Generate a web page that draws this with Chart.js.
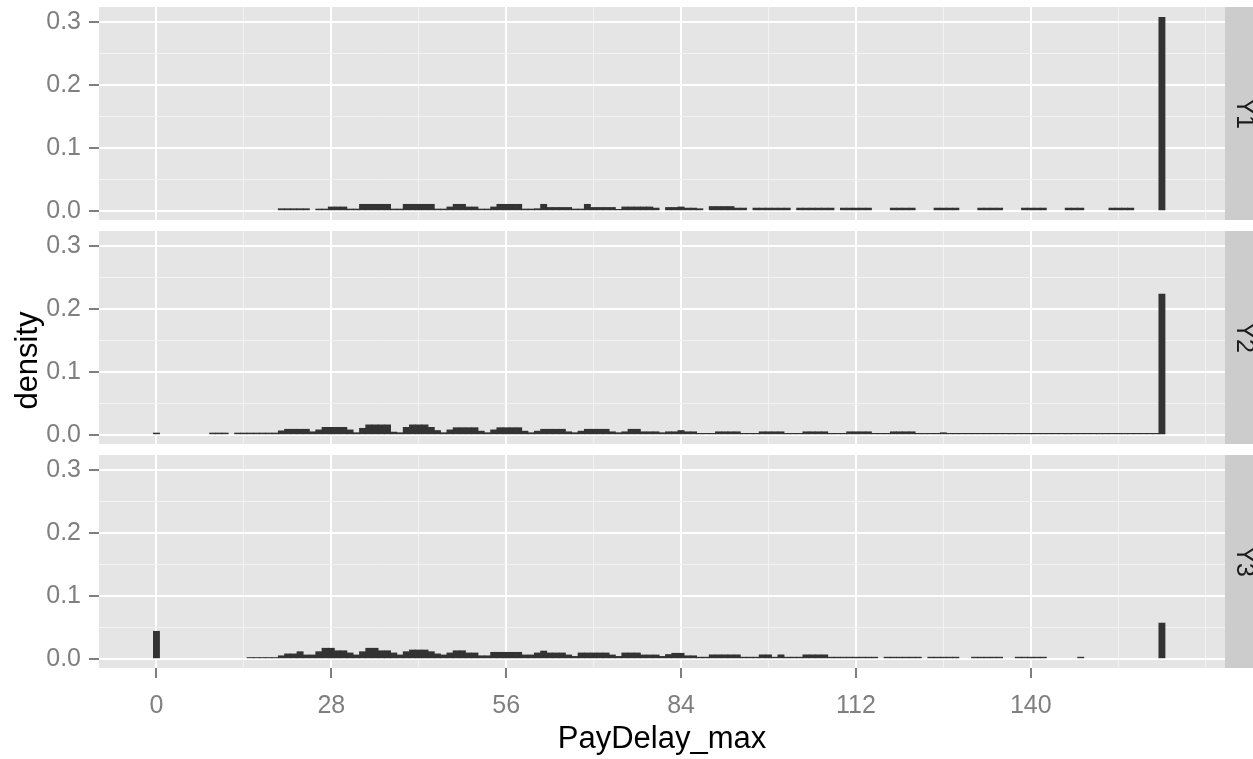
<!DOCTYPE html>
<html>
<head>
<meta charset="utf-8">
<script src="https://cdn.jsdelivr.net/npm/chart.js@4.4.1/dist/chart.umd.min.js"></script>
<style>
  html, body { margin: 0; padding: 0; background: #ffffff; }
  #wrap { position: relative; width: 1253px; height: 759px; overflow: hidden; }
  canvas { position: absolute; left: 0; }
</style>
</head>
<body>
<div id="wrap">
  <canvas id="panel1" width="1253" height="231" style="top:0px"></canvas>
  <canvas id="panel2" width="1253" height="231" style="top:224px"></canvas>
  <canvas id="panel3" width="1253" height="311" style="top:448px"></canvas>
</div>
<script>
// density per day (binwidth 1), first value is day 0, one row = one week
const firstDay = 0

const y1Density = [
  0, 0, 0, 0, 0, 0, 0,
  0, 0, 0, 0, 0, 0, 0,
  0, 0, 0, 0, 0, 0, .0035,
  .0035, .0035, .0035, .0035, 0, .003, .003,
  .0063, .0063, .0063, .003, .003, .0105, .0105,
  .0105, .0105, .0105, .003, .003, .0105, .0105,
  .0105, .0105, .0105, .003, .003, .0063, .0105,
  .0105, .0063, .0063, .003, .003, .0063, .0105,
  .0105, .0105, .0105, .003, .003, .0035, .0105,
  .0055, .0055, .0055, .0055, .003, .003, .0105,
  .0055, .0055, .0055, .0055, .0025, .0063, .0063,
  .0063, .0063, .0063, .0045, 0, .0055, .0055,
  .0063, .0045, .0045, .0035, 0, .007, .007,
  .007, .007, .0045, .0045, 0, .0045, .0045,
  .0045, .0045, .0045, .0045, 0, .0045, .0045,
  .0045, .0045, .0045, .0045, 0, .0045, .0045,
  .0045, .0045, .0045, 0, 0, 0, .0045,
  .0045, .0045, .0045, 0, 0, 0, .0045,
  .0045, .0045, .0045, 0, 0, 0, .0045,
  .0045, .0045, .0045, 0, 0, 0, .0045,
  .0045, .0045, .0045, 0, 0, 0, .0045,
  .0045, .0045, 0, 0, 0, 0, .0045,
  .0045, .0045, .0045, 0, 0, 0, 0,
  .308
]

const y2Density = [
  .003, 0, 0, 0, 0, 0, 0,
  0, 0, .003, .003, .003, 0, .003,
  .003, .003, .003, .003, .003, .003, .0065,
  .009, .009, .009, .009, .005, .008, .012,
  .012, .012, .012, .008, .0035, .0105, .016,
  .016, .016, .016, .0045, .0035, .012, .016,
  .016, .016, .012, .007, .0035, .008, .0115,
  .0115, .0115, .0115, .006, .0035, .008, .0115,
  .0115, .0115, .0115, .006, .0035, .006, .009,
  .009, .009, .009, .005, .0035, .006, .009,
  .009, .009, .009, .005, .0035, .005, .009,
  .009, .005, .005, .005, .0035, .005, .005,
  .007, .005, .005, .0025, .0025, .0025, .005,
  .005, .005, .005, .0025, .0025, .0025, .005,
  .005, .005, .005, .0025, .0025, .0025, .005,
  .005, .005, .005, .0025, .0025, .0025, .005,
  .005, .005, .005, .0025, .0025, .0025, .005,
  .005, .005, .005, .0025, .0025, .0025, .0025,
  .0035, .0025, .0025, .0025, .0025, .0025, .0025,
  .0025, .0025, .0025, .0025, .0025, .0025, .0025,
  .0025, .0025, .0025, .0025, .0025, .0025, .0025,
  .0025, .0025, .0025, .0025, .0025, .0025, .0025,
  .0025, .0025, .0025, .0025, .0025, .0025, .0025,
  .224
]

const y3Density = [
  .044, 0, 0, 0, 0, 0, 0,
  0, 0, 0, 0, 0, 0, 0,
  0, .0022, .0022, .0022, .0022, .0022, .005,
  .008, .008, .0115, .0063, .0063, .0115, .017,
  .017, .013, .013, .0095, .0063, .0115, .017,
  .017, .013, .013, .0095, .0063, .0115, .0142,
  .0142, .0142, .0115, .008, .0063, .0095, .013,
  .013, .0095, .0095, .005, .005, .0105, .0105,
  .0105, .0105, .0105, .0063, .0063, .0095, .0125,
  .0095, .0095, .0095, .0063, .004, .0095, .0095,
  .0095, .0095, .0095, .0063, .004, .0095, .0095,
  .0095, .0063, .0063, .0063, .004, .007, .009,
  .009, .005, .005, .0028, .0028, .0065, .0065,
  .0065, .0065, .0065, .0028, .0028, .0028, .0065,
  .0065, .0028, .0065, .0028, .0028, .0028, .0065,
  .0065, .0065, .0065, .0028, .0028, .0028, .0028,
  .0028, .0028, .0028, .0028, 0, .0028, .0028,
  .0028, .0028, .0028, .0028, 0, .0028, .0028,
  .0028, .0028, .0028, 0, 0, .0028, .0028,
  .0028, .0028, .0028, 0, 0, .0028, .0028,
  .0028, .0028, .0028, 0, 0, 0, 0,
  0, .0028, 0, 0, 0, 0, 0,
  0, 0, 0, 0, 0, 0, 0,
  .057
]

const panelNames = ['Y1', 'Y2', 'Y3']
const xMajor = [0, 28, 56, 84, 112, 140]
const xMinor = [14, 42, 70, 98, 126, 154, 168]
const yMajor = [0, 0.1, 0.2, 0.3]
const yMinor = [0.05, 0.15, 0.25]
const yLabels = ['0.0', '0.1', '0.2', '0.3']

const xMin = -9.2, xMax = 171.1
const yMin = -0.0145, yMax = 0.3245
const FONT = "'Liberation Sans', Arial, sans-serif"

const xTicks = [...xMajor, ...xMinor].sort((a, b) => a - b)
const yTicks = [...yMajor, ...yMinor].sort((a, b) => a - b)

const toPoints = (values) => {
    const pts = []
    values.forEach((v, i) => {
        if (v > 0) pts.push({ x: firstDay + i, y: v })
    })
    return pts
}

// grey panel background
const panelBg = {
    id: 'panelBg',
    beforeDraw(chart) {
        const { ctx, chartArea: a } = chart
        ctx.save()
        ctx.fillStyle = '#E5E5E5'
        ctx.fillRect(a.left, a.top, a.right - a.left, a.bottom - a.top)
        ctx.restore()
    }
}

// facet strip on the right
const strip = {
    id: 'strip',
    afterDraw(chart, args, opts) {
        const { ctx, chartArea: a } = chart
        ctx.save()
        ctx.fillStyle = '#CCCCCC'
        ctx.fillRect(a.right, a.top, chart.width - a.right, a.bottom - a.top)
        ctx.translate(a.right + 19, (a.top + a.bottom) / 2)
        ctx.rotate(Math.PI / 2)
        ctx.fillStyle = '#1A1A1A'
        ctx.font = '25px ' + FONT
        ctx.textAlign = 'center'
        ctx.textBaseline = 'middle'
        ctx.fillText(opts.label, 0, 0)
        ctx.restore()
    }
}

// shared y title, sits a bit below the middle panel's centre like in the source
const yTitle = {
    id: 'yTitle',
    afterDraw(chart, args, opts) {
        if (!opts.text) return
        const { ctx, chartArea: a } = chart
        ctx.save()
        ctx.translate(28, (a.top + a.bottom) / 2 + 23)
        ctx.rotate(-Math.PI / 2)
        ctx.fillStyle = '#000000'
        ctx.font = '31px ' + FONT
        ctx.textAlign = 'center'
        ctx.textBaseline = 'middle'
        ctx.fillText(opts.text, 0, 0)
        ctx.restore()
    }
}

const gridFor = (major) => ({
    color: ctx => ctx.tick && major.includes(ctx.tick.value) ? '#FFFFFF' : '#F2F2F2',
    lineWidth: ctx => ctx.tick && major.includes(ctx.tick.value) ? 2 : 1,
    tickColor: ctx => ctx.tick && major.includes(ctx.tick.value) ? '#7F7F7F' : 'rgba(0,0,0,0)',
    tickWidth: 2,
    tickLength: 10,
    offset: false
})

const makePanel = (id, values, name, showX, yTitleText, padBottom) => {
    return new Chart(document.getElementById(id), {
        type: 'bar',
        data: {
            datasets: [
                {
                    data: toPoints(values),
                    backgroundColor: '#333333',
                    borderWidth: 0,
                    barPercentage: 1,
                    categoryPercentage: 1
                }
            ]
        },
        options: {
            responsive: false,
            animation: false,
            layout: {
                padding: { top: 7, right: 28, bottom: padBottom, left: 0 }
            },
            plugins: {
                legend: { display: false },
                tooltip: { enabled: false },
                strip: { label: name },
                yTitle: { text: yTitleText }
            },
            scales: {
                x: {
                    type: 'linear',
                    min: xMin,
                    max: xMax,
                    offset: false,
                    afterBuildTicks: s => { s.ticks = xTicks.map(v => ({ value: v })) },
                    afterFit: s => {
                        s.height = showX ? 91 : 0
                        s.paddingLeft = 0
                        s.paddingRight = 0
                    },
                    grid: { ...gridFor(xMajor), drawTicks: showX },
                    border: { display: false },
                    ticks: {
                        display: showX,
                        autoSkip: false,
                        maxRotation: 0,
                        padding: 13,
                        color: '#7F7F7F',
                        font: { family: FONT, size: 25 },
                        callback: v => xMajor.includes(v) ? String(v) : ''
                    },
                    title: {
                        display: showX,
                        text: 'PayDelay_max',
                        color: '#000000',
                        font: { family: FONT, size: 31 },
                        padding: { top: 0, bottom: 1 }
                    }
                },
                y: {
                    type: 'linear',
                    min: yMin,
                    max: yMax,
                    afterBuildTicks: s => { s.ticks = yTicks.map(v => ({ value: v })) },
                    afterFit: s => {
                        s.width = 99
                        s.paddingTop = 0
                        s.paddingBottom = 0
                    },
                    grid: gridFor(yMajor),
                    border: { display: false },
                    ticks: {
                        padding: 8,
                        color: '#7F7F7F',
                        font: { family: FONT, size: 25 },
                        callback: v => {
                            const i = yMajor.indexOf(v)
                            return i >= 0 ? yLabels[i] : ''
                        }
                    }
                }
            }
        },
        plugins: [panelBg, strip, yTitle]
    })
}

makePanel('panel1', y1Density, panelNames[0], false, '', 11)
makePanel('panel2', y2Density, panelNames[1], false, 'density', 11)
makePanel('panel3', y3Density, panelNames[2], true, '', 0)
</script>
</body>
</html>
